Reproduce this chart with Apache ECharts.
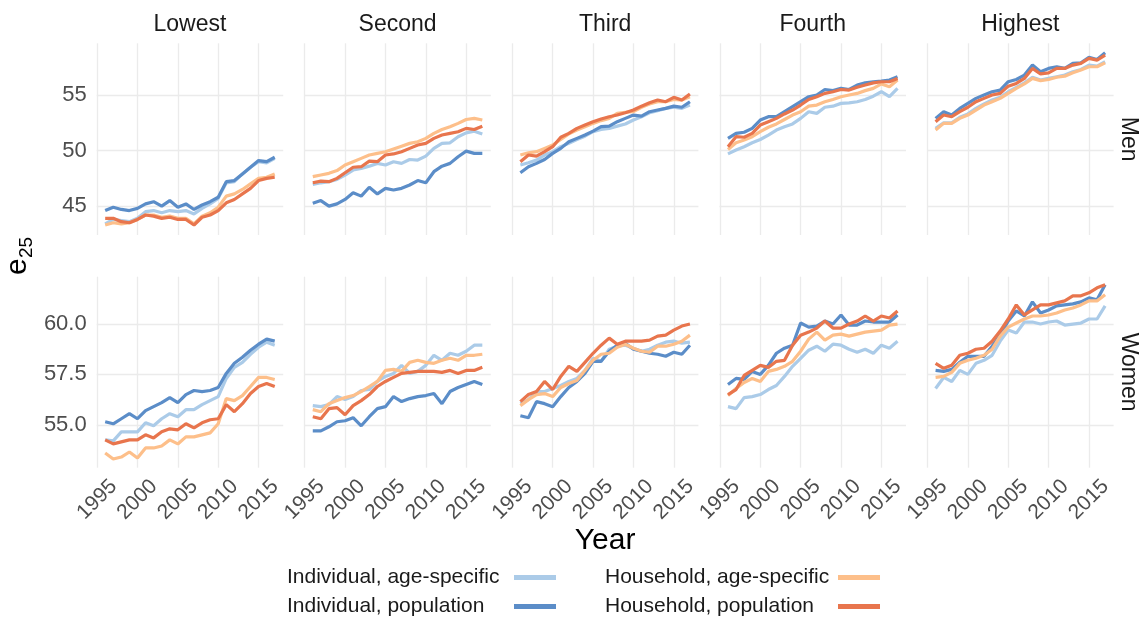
<!DOCTYPE html>
<html>
<head>
<meta charset="utf-8">
<script src="https://cdn.jsdelivr.net/npm/echarts@6/dist/echarts.min.js"></script>
<style>
  html, body { margin: 0; padding: 0; background: #ffffff; }
  #chart { width: 1143px; height: 622px; }
</style>
</head>
<body>
<div id="chart"></div>
<script>
// ---- data -------------------------------------------------------------
const years = [1996, 1997, 1998, 1999, 2000, 2001, 2002, 2003, 2004, 2005, 2006,
               2007, 2008, 2009, 2010, 2011, 2012, 2013, 2014, 2015, 2016, 2017];
const quintiles = ['Lowest', 'Second', 'Third', 'Fourth', 'Highest'];
const sexes = ['Men', 'Women'];
const seriesNames = ['Individual, age-specific', 'Individual, population',
                     'Household, age-specific', 'Household, population'];
const xTicks = [1995, 2000, 2005, 2010, 2015];
const yTicksMen = [45, 50, 55];
const yTicksWomen = [55, 57.5, 60];

// each panel: [individual age-specific, individual population, household age-specific, household population]
const menLowest = [
  [43.4, 43.8, 43.7, 43.6, 43.9, 44.5, 44.6, 44.4, 44.6, 44.5, 44.6, 44.3, 44.8, 45.2, 45.7, 47.1, 47.2, 47.9, 48.5, 49.0, 48.9, 49.3],
  [44.6, 44.9, 44.7, 44.6, 44.8, 45.2, 45.4, 45.0, 45.5, 44.9, 45.2, 44.7, 45.1, 45.4, 45.8, 47.2, 47.3, 47.9, 48.5, 49.1, 49.0, 49.4],
  [43.3, 43.5, 43.4, 43.5, 43.8, 44.2, 44.2, 44.0, 44.1, 43.9, 43.9, 43.4, 44.1, 44.4, 44.9, 45.9, 46.1, 46.5, 47.0, 47.5, 47.6, 47.9],
  [43.9, 43.9, 43.6, 43.5, 43.8, 44.2, 44.1, 43.9, 44.0, 43.8, 43.8, 43.3, 44.0, 44.2, 44.6, 45.3, 45.6, 46.1, 46.6, 47.3, 47.5, 47.6]
];
const menSecond = [
  [46.95, 47.1, 47.2, 47.4, 47.8, 48.25, 48.4, 48.6, 48.85, 48.7, 49.0, 48.85, 49.2, 49.15, 49.5, 50.2, 50.65, 50.7, 51.25, 51.6, 51.75, 51.5],
  [45.25, 45.5, 45.0, 45.2, 45.6, 46.2, 45.9, 46.7, 46.1, 46.6, 46.45, 46.6, 46.9, 47.3, 47.1, 48.1, 48.6, 48.85, 49.45, 49.95, 49.75, 49.75],
  [47.65, 47.8, 47.95, 48.2, 48.7, 49.0, 49.3, 49.6, 49.75, 49.9, 50.15, 50.4, 50.65, 50.8, 51.1, 51.55, 51.9, 52.15, 52.45, 52.8, 52.9, 52.75],
  [47.1, 47.25, 47.2, 47.5, 48.0, 48.5, 48.55, 49.05, 49.0, 49.6, 49.7, 49.9, 50.2, 50.5, 50.65, 51.1, 51.4, 51.55, 51.7, 52.0, 51.9, 52.2]
];
const menThird = [
  [48.7, 48.9, 49.15, 49.6, 49.9, 50.35, 50.65, 51.0, 51.3, 51.7, 51.9, 52.0, 52.2, 52.4, 52.75, 53.05, 53.4, 53.6, 53.8, 53.9, 53.8, 54.1],
  [48.0, 48.55, 48.85, 49.2, 49.75, 50.2, 50.8, 51.1, 51.4, 51.75, 52.15, 52.2, 52.6, 52.9, 53.2, 53.1, 53.5, 53.65, 53.8, 54.0, 53.9, 54.4],
  [49.6, 49.8, 49.9, 50.2, 50.5, 51.0, 51.5, 51.85, 52.15, 52.45, 52.7, 52.9, 53.35, 53.45, 53.5, 53.9, 54.2, 54.4, 54.4, 54.6, 54.55, 54.85],
  [49.0, 49.6, 49.5, 49.9, 50.35, 51.2, 51.55, 52.0, 52.3, 52.6, 52.85, 53.05, 53.2, 53.4, 53.65, 54.0, 54.3, 54.55, 54.4, 54.8, 54.55, 55.1]
];
const menFourth = [
  [49.7, 50.05, 50.35, 50.7, 51.0, 51.4, 51.85, 52.15, 52.4, 52.9, 53.5, 53.35, 53.9, 54.0, 54.25, 54.3, 54.4, 54.6, 54.9, 55.3, 54.85, 55.6],
  [51.1, 51.55, 51.65, 52.0, 52.75, 53.05, 53.05, 53.5, 53.95, 54.4, 54.85, 55.0, 55.5, 55.4, 55.6, 55.5, 55.9, 56.1, 56.2, 56.25, 56.35, 56.65],
  [50.1, 50.7, 50.95, 51.25, 51.7, 52.1, 52.4, 52.8, 53.2, 53.5, 54.0, 54.1, 54.4, 54.6, 54.85, 55.0, 55.15, 55.4, 55.6, 56.0, 55.75, 56.35],
  [50.35, 51.25, 51.2, 51.55, 52.3, 52.6, 52.9, 53.3, 53.65, 54.1, 54.6, 54.85, 55.15, 55.3, 55.5, 55.45, 55.7, 55.9, 56.1, 56.2, 56.2, 56.5]
];
const menHighest = [
  [52.0, 52.5, 52.5, 53.0, 53.3, 53.8, 54.2, 54.55, 54.8, 55.3, 55.7, 56.1, 56.6, 56.35, 56.5, 56.65, 56.8, 57.1, 57.3, 57.7, 57.6, 58.0],
  [52.9, 53.5, 53.2, 53.8, 54.25, 54.7, 55.0, 55.3, 55.45, 56.2, 56.4, 56.8, 57.7, 57.1, 57.4, 57.55, 57.4, 57.85, 57.9, 58.4, 58.2, 58.8],
  [51.85, 52.45, 52.45, 52.9, 53.2, 53.65, 54.1, 54.4, 54.7, 55.15, 55.6, 56.0, 56.5, 56.3, 56.4, 56.6, 56.7, 57.0, 57.25, 57.55, 57.55, 57.9],
  [52.6, 53.2, 53.05, 53.5, 53.9, 54.4, 54.7, 55.0, 55.15, 55.8, 56.05, 56.5, 57.4, 56.9, 57.0, 57.4, 57.4, 57.7, 57.85, 58.3, 58.15, 58.6]
];
const womenLowest = [
  [54.25, 54.2, 54.65, 54.65, 54.65, 55.1, 54.95, 55.3, 55.55, 55.4, 55.75, 55.75, 56.0, 56.2, 56.4, 57.3, 57.85, 58.1, 58.5, 58.85, 59.1, 58.95],
  [55.15, 55.05, 55.3, 55.55, 55.3, 55.7, 55.9, 56.1, 56.35, 56.1, 56.5, 56.7, 56.65, 56.7, 56.85, 57.55, 58.05, 58.35, 58.7, 59.0, 59.25, 59.15],
  [53.6, 53.3, 53.4, 53.65, 53.35, 53.85, 53.85, 53.95, 54.25, 54.05, 54.4, 54.4, 54.5, 54.6, 55.05, 56.3, 56.2, 56.45, 56.9, 57.35, 57.35, 57.25],
  [54.25, 54.05, 54.15, 54.25, 54.25, 54.5, 54.35, 54.65, 54.8, 54.75, 55.05, 54.85, 55.1, 55.25, 55.3, 56.0, 55.65, 56.05, 56.55, 56.9, 57.05, 56.9]
];
const womenSecond = [
  [55.95, 55.9, 56.0, 56.4, 56.25, 56.4, 56.7, 56.75, 57.15, 57.4, 57.55, 57.95, 57.55, 57.65, 57.95, 58.45, 58.2, 58.55, 58.45, 58.65, 58.95, 58.95],
  [54.7, 54.7, 54.9, 55.15, 55.2, 55.35, 54.95, 55.4, 55.8, 55.9, 56.4, 56.15, 56.3, 56.4, 56.45, 56.55, 56.05, 56.65, 56.85, 57.0, 57.15, 57.0],
  [55.75, 55.65, 56.05, 56.2, 56.35, 56.45, 56.65, 56.9, 57.15, 57.7, 57.75, 57.65, 58.1, 58.2, 58.1, 58.05, 58.2, 58.3, 58.2, 58.45, 58.45, 58.5],
  [55.4, 55.3, 55.8, 55.85, 55.5, 55.95, 56.2, 56.5, 56.9, 57.15, 57.35, 57.55, 57.6, 57.65, 57.65, 57.65, 57.6, 57.7, 57.55, 57.7, 57.7, 57.85]
];
const womenThird = [
  [56.05, 56.25, 56.65, 56.65, 56.8, 56.95, 57.15, 57.3, 57.7, 58.3, 58.15, 58.75, 58.9, 58.95, 58.8, 58.65, 58.75, 58.95, 59.1, 59.15, 59.05, 59.1],
  [55.45, 55.35, 56.15, 56.05, 55.9, 56.4, 56.85, 57.15, 57.55, 58.15, 58.15, 58.65, 58.95, 59.05, 58.75, 58.65, 58.55, 58.5, 58.4, 58.6, 58.5, 58.95],
  [55.95, 56.25, 56.5, 56.55, 56.4, 56.85, 57.05, 57.2, 57.7, 58.2, 58.5, 58.55, 58.85, 59.0, 58.8, 58.65, 58.6, 58.9, 58.9, 59.0, 59.15, 59.45],
  [56.15, 56.5, 56.65, 57.15, 56.75, 57.4, 57.9, 57.65, 58.1, 58.55, 58.95, 59.3, 59.0, 59.15, 59.15, 59.15, 59.2, 59.4, 59.45, 59.7, 59.9, 60.0]
];
const womenFourth = [
  [55.9, 55.8, 56.35, 56.4, 56.5, 56.75, 56.95, 57.4, 57.9, 58.3, 58.7, 58.9, 58.65, 59.0, 58.95, 58.75, 58.6, 58.75, 58.55, 58.95, 58.8, 59.15],
  [57.0, 57.3, 57.25, 57.65, 57.5, 57.95, 58.55, 58.8, 58.95, 60.05, 59.85, 59.9, 60.15, 60.0, 60.45, 59.95, 59.95, 60.15, 60.1, 60.1, 60.1, 60.45],
  [56.45, 56.8, 57.1, 57.3, 57.15, 57.65, 57.75, 57.9, 58.15, 58.65, 59.25, 59.6, 59.2, 59.45, 59.5, 59.4, 59.5, 59.6, 59.65, 59.7, 59.95, 60.0],
  [56.5, 56.75, 57.45, 57.7, 57.95, 57.85, 58.15, 58.2, 58.95, 59.45, 59.6, 59.8, 60.15, 59.8, 59.8, 60.0, 60.15, 60.4, 60.15, 60.4, 60.3, 60.65]
];
const womenHighest = [
  [56.8, 57.35, 57.15, 57.7, 57.5, 58.05, 58.2, 58.45, 59.15, 59.7, 59.55, 60.1, 60.1, 60.0, 60.1, 60.15, 59.95, 60.0, 60.05, 60.25, 60.25, 60.9],
  [57.7, 57.65, 57.75, 58.1, 58.4, 58.4, 58.4, 58.9, 59.45, 60.15, 60.65, 60.4, 61.1, 60.55, 60.7, 60.9, 60.95, 61.0, 61.1, 61.3, 61.2, 61.95],
  [57.35, 57.4, 57.6, 58.05, 58.2, 58.3, 58.45, 58.75, 59.4, 59.85, 60.05, 60.25, 60.4, 60.4, 60.45, 60.55, 60.7, 60.8, 60.95, 61.15, 61.15, 61.45],
  [58.05, 57.8, 57.95, 58.45, 58.55, 58.75, 58.8, 59.15, 59.65, 60.25, 60.95, 60.45, 60.7, 60.95, 60.95, 61.05, 61.15, 61.4, 61.4, 61.55, 61.8, 61.95]
];

const panels = [
  [menLowest, menSecond, menThird, menFourth, menHighest],
  [womenLowest, womenSecond, womenThird, womenFourth, womenHighest]
];

// ---- styling & layout -------------------------------------------------
const FONT = '"Liberation Sans", Arial, Helvetica, sans-serif';
const colors = ['#abcbe8', '#5b8dc8', '#fdbf8a', '#e8754d'];
const gridColor = '#ebebeb';
const panelLeft = 96.7, panelPitch = 207.6, panelWidth = 186.5;
const rowTop = [43.3, 276.7], rowHeight = [191.7, 191.0];
const yRange = [[42.4, 59.66], [52.87, 62.35]];
const yTicks = [yTicksMen, yTicksWomen];
const xMin = 1994.95, xMax = 2018.05;

const grid = [], xAxis = [], yAxis = [], series = [];
for (let r = 0; r < 2; r++) {
  for (let c = 0; c < 5; c++) {
    const idx = grid.length;
    grid.push({
      left: panelLeft + c * panelPitch, top: rowTop[r],
      width: panelWidth, height: rowHeight[r], containLabel: false
    });
    xAxis.push({
      type: 'value', gridIndex: idx, min: xMin, max: xMax,
      axisLine: { show: false },
      axisTick: { show: false, customValues: xTicks },
      splitLine: { show: true, lineStyle: { color: gridColor, width: 1.3 } },
      axisLabel: {
        show: r === 1, customValues: xTicks, rotate: 45,
        align: 'center', verticalAlign: 'middle', margin: 32,
        fontSize: 21, color: '#4d4d4d', fontFamily: FONT,
        formatter: v => String(Math.round(v))
      }
    });
    yAxis.push({
      type: 'value', gridIndex: idx, min: yRange[r][0], max: yRange[r][1],
      axisLine: { show: false },
      axisTick: { show: false, customValues: yTicks[r] },
      splitLine: { show: true, lineStyle: { color: gridColor, width: 1.3 } },
      axisLabel: {
        show: c === 0, customValues: yTicks[r], margin: 10,
        fontSize: 22, color: '#4d4d4d', fontFamily: FONT,
        formatter: v => r === 0 ? String(v) : v.toFixed(1)
      }
    });
    panels[r][c].forEach((vals, k) => {
      series.push({
        type: 'line', name: seriesNames[k],
        xAxisIndex: idx, yAxisIndex: idx,
        data: years.map((y, i) => [y, vals[i]]),
        symbol: 'none', showSymbol: false, silent: true,
        lineStyle: { width: 3.2, color: colors[k] },
        itemStyle: { color: colors[k] },
        z: 2 + k, emphasis: { disabled: true }
      });
    });
  }
}

const graphics = [];
// column strip labels
quintiles.forEach((q, c) => {
  graphics.push({
    type: 'text', x: panelLeft + c * panelPitch + panelWidth / 2, y: 25,
    style: { text: q, fontSize: 23, fontFamily: FONT, fill: '#1a1a1a', align: 'center', verticalAlign: 'middle' }
  });
});
// row strip labels
sexes.forEach((s, r) => {
  graphics.push({
    type: 'text', x: 1128, y: rowTop[r] + rowHeight[r] / 2, rotation: -Math.PI / 2,
    style: { text: s, fontSize: 23, fontFamily: FONT, fill: '#1a1a1a', align: 'center', verticalAlign: 'middle' }
  });
});
// x axis title
graphics.push({
  type: 'text', x: panelLeft + (4 * panelPitch + panelWidth) / 2, y: 541,
  style: { text: 'Year', fontSize: 30, fontFamily: FONT, fill: '#000', align: 'center', verticalAlign: 'middle' }
});
// y axis title: e with subscript 25
graphics.push({
  type: 'group', x: 18, y: 256, rotation: Math.PI / 2,
  children: [
    { type: 'text', x: -19, y: 0, style: { text: 'e', fontSize: 30, fontFamily: FONT, fill: '#000', align: 'left', verticalAlign: 'middle' } },
    { type: 'text', x: -2, y: 9, style: { text: '25', fontSize: 19, fontFamily: FONT, fill: '#000', align: 'left', verticalAlign: 'middle' } }
  ]
});

const legendBase = {
  orient: 'vertical', align: 'right', icon: 'rect',
  itemWidth: 42, itemHeight: 5, itemGap: 8, top: 567,
  selectedMode: false, padding: 0,
  textStyle: { fontSize: 21, color: '#1a1a1a', fontFamily: FONT }
};

const option = {
  animation: false,
  backgroundColor: '#ffffff',
  grid, xAxis, yAxis, series,
  legend: [
    Object.assign({}, legendBase, {
      left: 287, data: seriesNames.slice(0, 2), formatter: '{t|{name}}',
      textStyle: Object.assign({}, legendBase.textStyle, { rich: { t: { width: 222, align: 'left', fontSize: 21, fontFamily: FONT, color: '#1a1a1a' } } })
    }),
    Object.assign({}, legendBase, {
      left: 605, data: seriesNames.slice(2, 4), formatter: '{t|{name}}',
      textStyle: Object.assign({}, legendBase.textStyle, { rich: { t: { width: 228, align: 'left', fontSize: 21, fontFamily: FONT, color: '#1a1a1a' } } })
    })
  ],
  graphic: graphics
};

const chart = echarts.init(document.getElementById('chart'), null, { renderer: 'canvas' });
chart.setOption(option);
</script>
</body>
</html>
